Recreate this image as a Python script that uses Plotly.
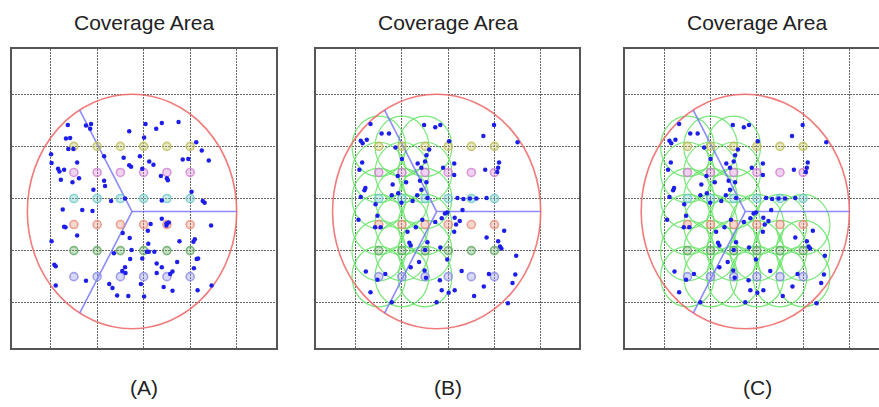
import numpy as np
import plotly.graph_objects as go

# ---------------- data (grid units: dotted grid lines at 0..4) ----------------
grid_ticks = [0, 1, 2, 3, 4]
cell_center = (1.75, 1.75)
cell_radius = 2.25
sector_angles_deg = [0, 120, 240]

station_x = [0.5, 1.0, 1.5, 2.0, 2.5, 3.0]
station_rows_y = [3.0, 2.5, 2.0, 1.5, 1.0, 0.5]
station_row_colors = [(190, 190, 90), (210, 130, 210), (110, 200, 200),
                      (235, 140, 120), (100, 170, 100), (140, 140, 230)]

# users in panel (A)
users_a_x = [0.37, 0.76, 0.87, 0.85, 0.33, 0.42, 0.38, 0.49, 0.01, 0.02, 0.16, 0.19, 0.29, 0.57,
             0.22, 0.47, 0.61, 1.15, 1.15, 1.17, 0.92, 1.69, 2.04, 2.27, 2.39, 2.75, 2.01, 1.57,
             1.69, 1.73, 1.92, 2.12, 2.21, 1.97, 2.37, 2.50, 2.52, 3.13, 3.25, 2.84, 3.40, 2.96,
             3.03, 3.27, 3.31, 2.39, 1.60, 1.30, 0.90, 0.68, 0.26,
             0.29, 0.32, 0.57, 0.02, 0.08, 0.11, 0.11, 0.76, 1.55, 1.70, 1.36, 1.74, 1.71, 1.60,
             1.54, 1.61, 1.26, 1.33, 1.43, 1.67, 1.94, 2.01, 1.97, 2.07, 2.11, 2.23, 2.10, 2.09,
             2.15, 2.39, 2.49, 2.54, 2.49, 2.77, 3.07, 3.10, 3.45, 3.14, 3.17, 2.72, 2.28, 2.39,
             2.62, 2.57, 3.08, 2.43, 2.62, 3.16, 3.46, 2.28]
users_a_y = [3.41, 3.40, 3.43, 3.34, 3.15, 3.16, 2.95, 2.95, 2.85, 2.68, 2.57, 2.52, 2.55, 2.69,
             2.36, 2.31, 2.39, 2.81, 2.34, 2.24, 2.17, 3.29, 3.43, 3.34, 3.45, 3.47, 3.17, 2.78,
             2.64, 2.61, 2.81, 2.71, 2.65, 2.57, 2.43, 2.39, 2.35, 3.08, 2.92, 2.75, 2.73, 2.76,
             2.13, 1.95, 1.92, 1.96, 2.00, 1.95, 1.76, 1.78, 1.79,
             1.46, 1.45, 1.29, 1.18, 0.73, 0.70, 0.33, 0.42, 1.34, 1.24, 0.95, 1.01, 0.84, 0.68,
             0.61, 0.57, 0.36, 0.28, 0.14, 0.13, 0.36, 0.12, 0.85, 0.98, 0.98, 0.98, 1.13, 1.38,
             1.51, 1.61, 1.52, 1.54, 1.48, 1.18, 1.17, 1.22, 1.48, 0.84, 0.85, 0.78, 0.75, 0.68,
             0.60, 0.55, 0.66, 0.30, 0.23, 0.24, 0.33, 0.57]

# users in panels (B) and (C)
users_bc_x = [0.32, 0.56, 0.72, 0.11, 0.15, 0.24, 1.48, 1.72, 1.83, 2.99, 2.76, 3.50, 2.02, 0.86,
              1.00, 1.59, 1.53, 1.50, 1.34, 1.42, 0.14, 0.08, 0.21, 0.19, 0.80, 0.91, 1.09, 1.39,
              1.53, 1.42, 1.89, 2.13, 2.13, 2.80, 3.10, 3.08, 3.06, 0.11, 0.43, 0.78, 0.92, 0.99,
              1.33, 1.23, 1.55, 2.20, 2.33, 2.47, 2.61, 2.83, 2.31,
              1.93, 1.98, 0.06, 0.42, 0.54, 0.47, 1.12, 1.30, 1.44, 1.72, 1.86, 2.14, 2.25, 2.17,
              2.13, 1.55, 1.16, 1.19, 1.50, 1.83, 1.37, 1.19, 1.49, 1.98, 0.22, 0.47, 0.64, 0.32,
              0.78, 1.52, 1.82, 1.86, 2.01, 2.14, 1.75, 2.29, 2.56, 2.77, 2.88, 3.29, 3.45, 3.39,
              3.47, 2.83, 3.08, 3.12, 3.15, 3.21]
users_bc_y = [3.43, 3.25, 3.25, 3.11, 3.06, 3.13, 3.41, 3.37, 3.41, 3.41, 3.20, 3.08, 3.10, 2.98,
              2.76, 2.94, 2.83, 2.71, 2.67, 2.59, 2.69, 2.55, 2.20, 2.16, 2.27, 2.43, 2.31, 2.34,
              2.31, 2.17, 2.59, 2.67, 2.45, 2.55, 2.69, 2.59, 2.51, 2.03, 1.89, 2.06, 2.10, 1.92,
              2.06, 1.95, 2.01, 2.01, 1.99, 2.00, 2.00, 2.01, 1.78,
              1.71, 1.73, 1.59, 1.45, 1.45, 1.67, 1.36, 1.45, 1.59, 1.55, 1.62, 1.63, 1.57, 1.50,
              1.36, 1.16, 1.15, 1.10, 1.01, 1.06, 0.78, 0.68, 0.62, 0.83, 0.60, 0.44, 0.55, 0.20,
              0.01, 0.48, 0.43, 0.24, 0.19, 0.24, 0.01, 0.61, 0.13, 0.31, 0.55, -0.01, 0.54, 0.38,
              0.90, 1.25, 1.18, 1.08, 1.04, 1.38]

# coverage (green) circles: station columns x rows switched on in each panel
cover_radius = 0.58
cover_b = [(x, y) for x in [0.5, 1.0, 1.5] for y in [0.5, 1.0, 1.5, 2.0, 2.5, 3.0]]
cover_c = cover_b + [(x, y) for x in [2.0, 2.5, 3.0] for y in [0.5, 1.0, 1.5]]

titles = ["Coverage Area", "Coverage Area", "Coverage Area"]
labels = ["(A)", "(B)", "(C)"]

# ---------------- layout geometry ----------------
W, H = 879, 407
panels = [
    dict(x0=12, x1=276, xr=[-0.83, 4.845]),
    dict(x0=316, x1=579, xr=[-0.858, 4.828]),
    dict(x0=625, x1=879, xr=[-0.85, 4.64]),
]
y_top, y_bot = 49, 348
yr = [-0.87, 4.87]

fig = go.Figure()
shapes = []
annotations = []

users = [(users_a_x, users_a_y), (users_bc_x, users_bc_y), (users_bc_x, users_bc_y)]
covers = [[], cover_b, cover_c]

cx, cy = cell_center
ang = np.deg2rad(sector_angles_deg)
for i, p in enumerate(panels):
    sfx = "" if i == 0 else str(i + 1)
    xa, ya = "x" + sfx, "y" + sfx
    # coverage circles
    for (gx, gy) in covers[i]:
        shapes.append(dict(type="circle", xref=xa, yref=ya,
                           x0=gx - cover_radius, x1=gx + cover_radius,
                           y0=gy - cover_radius, y1=gy + cover_radius,
                           line=dict(color="rgba(100,228,100,0.85)", width=1.2),
                           layer="between"))
    # cell boundary
    shapes.append(dict(type="circle", xref=xa, yref=ya,
                       x0=cx - cell_radius, x1=cx + cell_radius,
                       y0=cy - cell_radius, y1=cy + cell_radius,
                       line=dict(color="rgba(240,110,110,0.9)", width=1.6),
                       layer="between"))
    # sector lines
    sx, sy = [], []
    for a in ang:
        sx += [cx, cx + cell_radius * np.cos(a), None]
        sy += [cy, cy + cell_radius * np.sin(a), None]
    fig.add_trace(go.Scatter(x=sx, y=sy, mode="lines", xaxis=xa, yaxis=ya,
                             line=dict(color="rgba(110,110,255,0.8)", width=1.6),
                             hoverinfo="skip", showlegend=False))
    # stations
    for ry, col in zip(station_rows_y, station_row_colors):
        r, g, b = col
        fig.add_trace(go.Scatter(
            x=station_x, y=[ry] * len(station_x), mode="markers", xaxis=xa, yaxis=ya,
            marker=dict(size=8, color=f"rgba({r},{g},{b},0.35)",
                        line=dict(color=f"rgba({r},{g},{b},0.8)", width=1.6)),
            showlegend=False, hoverinfo="skip"))
    # users
    ux, uy = users[i]
    fig.add_trace(go.Scatter(x=ux, y=uy, mode="markers", xaxis=xa, yaxis=ya,
                             marker=dict(size=4.5, color="rgb(30,30,235)",
                                         line=dict(width=0)),
                             showlegend=False, hoverinfo="skip"))

    dom_x = [p["x0"] / W, p["x1"] / W]
    dom_y = [1 - y_bot / H, 1 - y_top / H]
    axis_common = dict(showticklabels=False, ticks="", zeroline=False,
                       showgrid=True, gridcolor="#666666", gridwidth=1, griddash="2px,1px",
                       tickvals=grid_ticks, showline=True, linecolor="#555555",
                       linewidth=2, fixedrange=True)
    xkey = "xaxis" + sfx
    ykey = "yaxis" + sfx
    fig.layout[xkey] = dict(axis_common, domain=dom_x, range=p["xr"], anchor=ya,
                            mirror=True)
    fig.layout[ykey] = dict(axis_common, domain=dom_y, range=yr, anchor=xa,
                            mirror=(i < 2))
    xc = (p["x0"] + (p["x1"] if i < 2 else 889)) / 2 / W
    annotations.append(dict(text=titles[i], x=xc, y=1 - 23 / H, xref="paper", yref="paper",
                            showarrow=False, xanchor="center", yanchor="middle",
                            font=dict(family="Liberation Sans, Arial", size=21, color="#222")))
    annotations.append(dict(text=labels[i], x=xc, y=1 - 387 / H, xref="paper", yref="paper",
                            showarrow=False, xanchor="center", yanchor="middle",
                            font=dict(family="Liberation Sans, Arial", size=21, color="#222")))

fig.update_layout(width=W, height=H, margin=dict(l=0, r=0, t=0, b=0),
                  paper_bgcolor="white", plot_bgcolor="white",
                  shapes=shapes, annotations=annotations, showlegend=False)

fig.write_html("out.html", config={"displayModeBar": False})
